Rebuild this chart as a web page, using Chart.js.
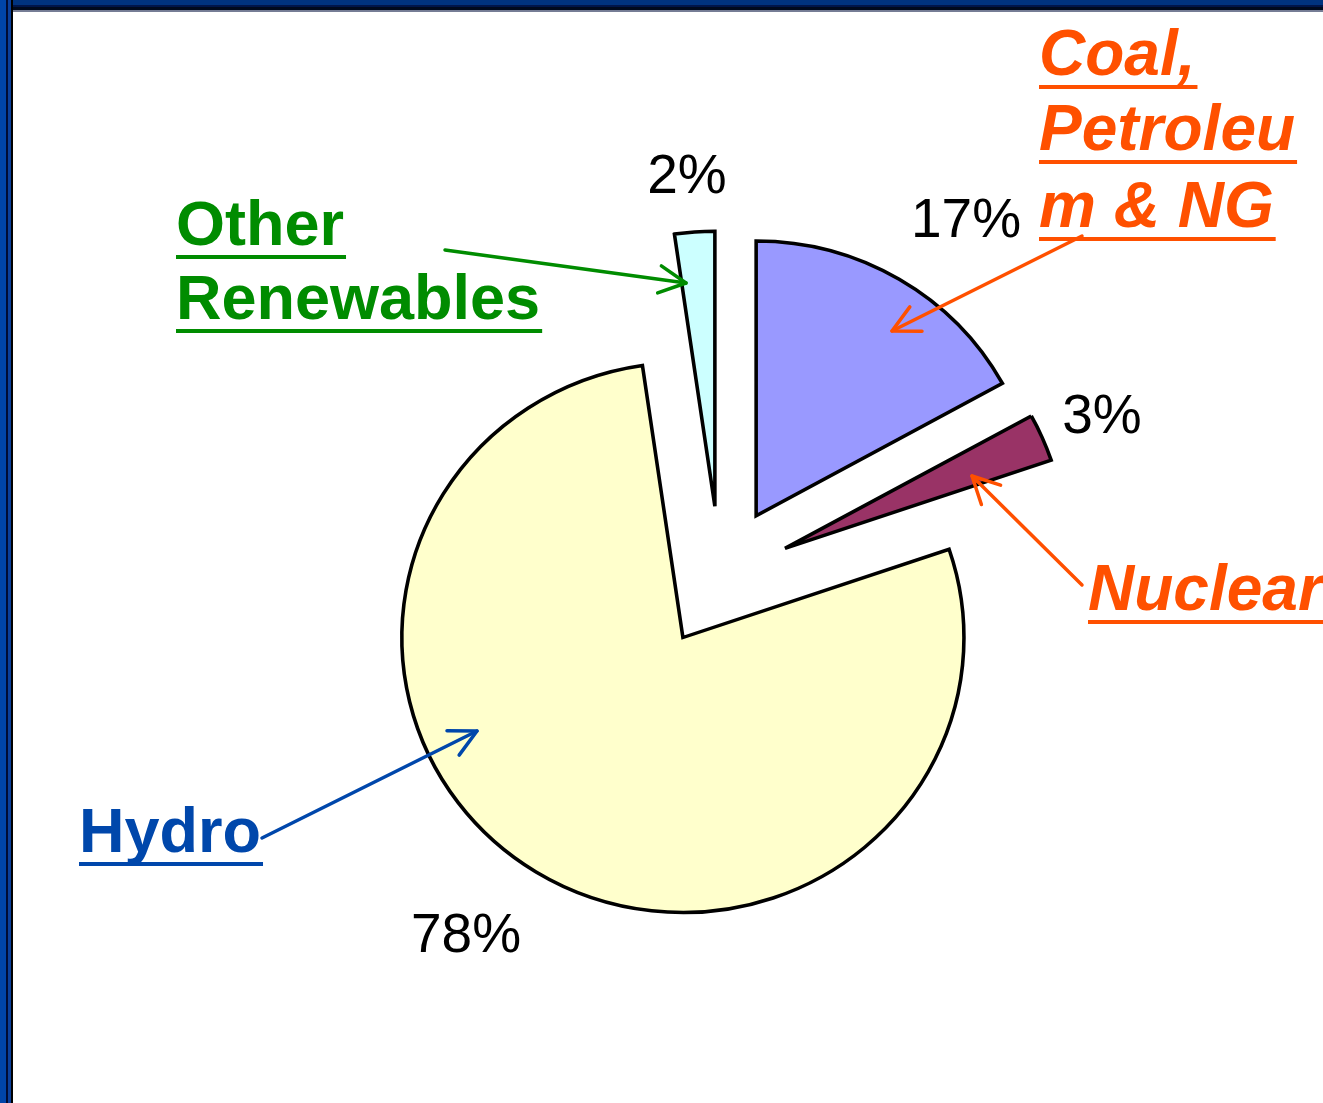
<!DOCTYPE html>
<html>
<head>
<meta charset="utf-8">
<title>Generation mix</title>
<script src="https://cdn.jsdelivr.net/npm/chart.js@4.4.1/dist/chart.umd.min.js"></script>
<style>
  html, body { margin: 0; padding: 0; background: #fff; }
  #wrap { position: relative; width: 1323px; height: 1103px; overflow: hidden; background: #fff; }
  #wrap canvas { position: absolute; left: 0; top: 0; }
  .frame-top { position: absolute; left: 0; top: 0; width: 1323px; height: 12px;
    background: linear-gradient(to bottom, #00337f 0, #00337f 5px, #00154a 5px, #00154a 7px, #000a1e 7px, #000a1e 10px, #767d95 10px, #767d95 12px); }
  .frame-left { position: absolute; left: 0; top: 0; width: 13px; height: 1103px;
    background: linear-gradient(to right, #0045a8 0, #0045a8 6px, #000c33 6px, #000c33 8px, #0a3f9a 8px, #0a3f9a 11px, #000 11px, #000 13px); }
</style>
</head>
<body>
<div id="wrap">
  <canvas id="chart" width="1323" height="1103" style="width:1323px;height:1103px"></canvas>
  <div class="frame-top"></div>
  <div class="frame-left"></div>
</div>
<script>
// slices, clockwise from 12 o'clock
const categories = ['Coal, Petroleum & NG', 'Nuclear', 'Hydro', 'Other Renewables'];
const shares = [17.0, 2.8, 77.9, 2.3];
const sliceColors = ['#9999ff', '#993366', '#ffffcc', '#ccffff'];

// where the percentage labels sit (centre x, baseline), same order as shares
const pctPos = [[966, 237], [1102, 433], [466, 952], [687, 193]];

const EXPLODE = 71;
const STRETCH_X = 1.022; // the slide's pie is a touch wider than tall
const GREEN = '#008c00';
const ORANGE = '#ff5000';
const BLUE = '#0047ab';

// callout texts, underlined, like the slide
const callouts = [
  { lines: ['Other', 'Renewables'], x: 176, base: [245, 319], font: 'bold 63px "Liberation Sans", Arial, sans-serif', color: GREEN },
  { lines: ['Coal,', 'Petroleu', 'm & NG'], x: 1039, base: [75, 150, 227], font: 'italic bold 64px "Liberation Sans", Arial, sans-serif', color: ORANGE },
  { lines: ['Nuclear'], x: 1088, base: [610], font: 'italic bold 64px "Liberation Sans", Arial, sans-serif', color: ORANGE },
  { lines: ['Hydro'], x: 79, base: [852], font: 'bold 63px "Liberation Sans", Arial, sans-serif', color: BLUE }
];

const arrows = [
  { from: [445, 250], to: [686, 283], color: GREEN },
  { from: [1082, 236], to: [892, 331], color: ORANGE },
  { from: [1082, 585], to: [972, 476], color: ORANGE },
  { from: [262, 838], to: [477, 731], color: BLUE }
];

// pull every slice out along its middle angle
const explodePlugin = {
  id: 'explode',
  beforeDatasetDraw(chart, args) {
    const ctx = chart.ctx;
    args.meta.data.forEach(arc => {
      const mid = (arc.startAngle + arc.endAngle) / 2;
      ctx.save();
      ctx.translate(Math.cos(mid) * EXPLODE, Math.sin(mid) * EXPLODE);
      ctx.translate(arc.x, 0);
      ctx.scale(STRETCH_X, 1);
      ctx.translate(-arc.x, 0);
      arc.draw(ctx);
      ctx.restore();
    });
    return false;
  }
};

function drawArrow(ctx, a) {
  const [x1, y1] = a.from, [x2, y2] = a.to;
  ctx.strokeStyle = a.color;
  ctx.lineWidth = 3.5;
  ctx.lineCap = 'round';
  ctx.lineJoin = 'round';
  ctx.beginPath();
  ctx.moveTo(x1, y1);
  ctx.lineTo(x2, y2);
  ctx.stroke();
  const back = Math.atan2(y1 - y2, x1 - x2);
  const len = 30, spread = 27 * Math.PI / 180;
  ctx.beginPath();
  ctx.moveTo(x2 + len * Math.cos(back + spread), y2 + len * Math.sin(back + spread));
  ctx.lineTo(x2, y2);
  ctx.lineTo(x2 + len * Math.cos(back - spread), y2 + len * Math.sin(back - spread));
  ctx.stroke();
}

const notesPlugin = {
  id: 'notes',
  afterDraw(chart) {
    const ctx = chart.ctx;
    const total = shares.reduce((s, v) => s + v, 0);
    ctx.save();
    ctx.textBaseline = 'alphabetic';

    // percentages
    ctx.font = '55px "Liberation Sans", Arial, sans-serif';
    ctx.fillStyle = '#000';
    ctx.textAlign = 'center';
    shares.forEach((v, i) => {
      ctx.fillText(Math.round(v / total * 100) + '%', pctPos[i][0], pctPos[i][1]);
    });

    // callout labels
    ctx.textAlign = 'left';
    callouts.forEach(c => {
      ctx.font = c.font;
      ctx.fillStyle = c.color;
      c.lines.forEach((t, i) => {
        ctx.fillText(t, c.x, c.base[i]);
        const w = ctx.measureText(t).width;
        ctx.fillRect(c.x, c.base[i] + 10, w + 2, 4);
      });
    });

    arrows.forEach(a => drawArrow(ctx, a));
    ctx.restore();
  }
};

new Chart(document.getElementById('chart').getContext('2d'), {
  type: 'pie',
  data: {
    labels: categories,
    datasets: [{
      data: shares,
      backgroundColor: sliceColors,
      borderColor: '#000',
      borderWidth: 3.5,
      borderJoinStyle: 'miter',
      radius: 275
    }]
  },
  options: {
    responsive: false,
    animation: false,
    devicePixelRatio: 1,
    layout: { padding: { left: 117, right: 0, top: 51, bottom: 0 } },
    plugins: {
      legend: { display: false },
      tooltip: { enabled: false }
    }
  },
  plugins: [explodePlugin, notesPlugin]
});
</script>
</body>
</html>
